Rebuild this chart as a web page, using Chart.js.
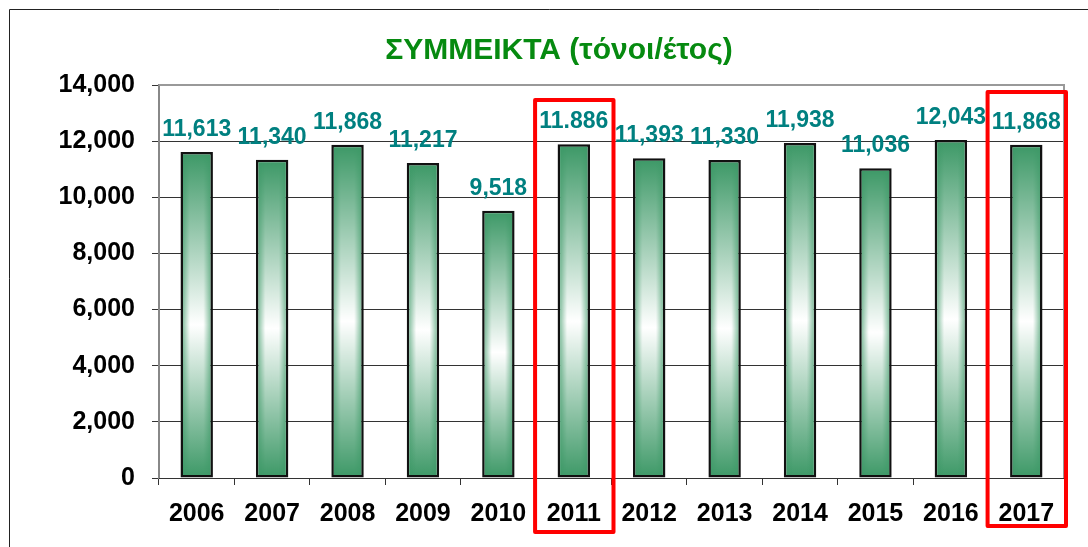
<!DOCTYPE html>
<html>
<head>
<meta charset="utf-8">
<script src="https://cdn.jsdelivr.net/npm/chart.js@4/dist/chart.umd.min.js"></script>
<style>
  html, body { margin: 0; padding: 0; background: #fff; }
  #wrap { width: 1088px; height: 547px; position: relative; }
</style>
</head>
<body>
<div id="wrap"><canvas id="chart" width="1088" height="547"></canvas></div>
<script>
// data
const years = ['2006', '2007', '2008', '2009', '2010', '2011', '2012', '2013', '2014', '2015', '2016', '2017'];
const tonnes = [11613, 11340, 11868, 11217, 9518, 11886, 11393, 11330, 11938, 11036, 12043, 11868];
const valueLabels = ['11,613', '11,340', '11,868', '11,217', '9,518', '11.886', '11,393', '11,330', '11,938', '11,036', '12,043', '11,868'];
const highlighted = ['2011', '2017'];
const yTicks = [0, 2000, 4000, 6000, 8000, 10000, 12000, 14000];

const GREEN = '#3c9866';
const FONT = 'Liberation Sans, Arial, sans-serif';

// bar fill: green at the ends and edges, white glow in the middle
const barFill = (ctx) => {
  const chart = ctx.chart;
  const xs = chart.scales.x, ys = chart.scales.y;
  if (!xs || !ys || ctx.type !== 'data') return GREEN;
  const i = ctx.dataIndex;
  const top = ys.getPixelForValue(tonnes[i]);
  const bot = ys.getPixelForValue(0);
  const cx = xs.getPixelForValue(i);
  if (![top, bot, cx].every(Number.isFinite) || bot - top < 2) return GREEN;
  const w = 34, h = Math.round(bot - top);
  const off = document.createElement('canvas');
  off.width = w; off.height = h;
  const o = off.getContext('2d');
  const v = o.createLinearGradient(0, 0, 0, h);
  v.addColorStop(0, GREEN);
  v.addColorStop(0.53, '#ffffff');
  v.addColorStop(1, GREEN);
  o.fillStyle = v;
  o.fillRect(0, 0, w, h);
  const hz = o.createLinearGradient(0, 0, w, 0);
  hz.addColorStop(0, 'rgba(60,152,102,0.85)');
  hz.addColorStop(0.3, 'rgba(60,152,102,0)');
  hz.addColorStop(0.7, 'rgba(60,152,102,0)');
  hz.addColorStop(1, 'rgba(60,152,102,0.85)');
  o.fillStyle = hz;
  o.fillRect(0, 0, w, h);
  const pat = chart.ctx.createPattern(off, 'no-repeat');
  pat.setTransform(new DOMMatrix().translate(cx - w / 2, top));
  return pat;
};

// frame, plot border, value labels and the red boxes
const extras = {
  id: 'extras',
  beforeDraw(chart) {
    const c = chart.ctx;
    c.save();
    c.strokeStyle = '#222';
    c.lineWidth = 1;
    c.beginPath();
    c.moveTo(9.5, 560);
    c.lineTo(9.5, 9.5);
    c.lineTo(1100, 9.5);
    c.stroke();
    c.restore();
  },
  afterDatasetsDraw(chart) {
    const c = chart.ctx;
    const a = chart.chartArea;
    const xs = chart.scales.x;
    c.save();
    // plot area border, top and right
    c.strokeStyle = '#999';
    c.lineWidth = 2;
    c.beginPath();
    c.moveTo(a.left, a.top);
    c.lineTo(a.right, a.top);
    c.lineTo(a.right, a.bottom);
    c.stroke();

    const meta = chart.getDatasetMeta(0);
    c.fillStyle = '#008080';
    c.font = 'bold 23px ' + FONT;
    c.textAlign = 'center';
    c.textBaseline = 'alphabetic';
    meta.data.forEach((bar, i) => {
      c.fillText(valueLabels[i], bar.x, bar.y - 16);
    });

    // red highlight boxes: [top offset, bottom offset] from the plot area
    const boxPad = { '2011': [15, 54], '2017': [7, 48] };
    c.strokeStyle = '#ff0000';
    c.lineWidth = 4;
    c.lineJoin = 'round';
    highlighted.forEach((yr) => {
      const i = years.indexOf(yr);
      const step = xs.getPixelForValue(1) - xs.getPixelForValue(0);
      const cx = xs.getPixelForValue(i);
      const top = a.top + boxPad[yr][0];
      const bottom = a.bottom + boxPad[yr][1];
      c.strokeRect(cx - step / 2 - 1, top, step + 3, bottom - top);
    });
    c.restore();
  }
};

new Chart(document.getElementById('chart'), {
  type: 'bar',
  data: {
    labels: years,
    datasets: [{
      data: tonnes,
      backgroundColor: barFill,
      borderColor: '#111',
      borderWidth: 2.5,
      borderSkipped: false,
      barPercentage: 0.43,
      categoryPercentage: 1
    }]
  },
  plugins: [extras],
  options: {
    responsive: false,
    animation: false,
    layout: { padding: { top: 33, left: 54, right: 24, bottom: 0 } },
    plugins: {
      legend: { display: false },
      tooltip: { enabled: false },
      title: {
        display: true,
        text: 'ΣΥΜΜΕΙΚΤΑ (τόνοι/έτος)',
        color: '#068a10',
        font: { family: FONT, size: 30, weight: 'bold' },
        padding: { top: 0, bottom: 16 }
      }
    },
    scales: {
      y: {
        min: 0,
        max: 14000,
        afterBuildTicks: (scale) => { scale.ticks = yTicks.map((v) => ({ value: v })); },
        afterFit: (scale) => { scale.width = 105; },
        ticks: {
          color: '#000',
          padding: 17,
          font: { family: FONT, size: 25, weight: 'bold' },
          callback: (v) => v.toLocaleString('en-US')
        },
        grid: { color: '#333', lineWidth: 1, tickLength: 7 },
        border: { color: '#888', width: 2 }
      },
      x: {
        afterFit: (scale) => { scale.height = 69; },
        ticks: {
          color: '#000',
          padding: 14,
          font: { family: FONT, size: 25, weight: 'bold' }
        },
        grid: { offset: true, drawOnChartArea: false, color: '#333', tickLength: 7 },
        border: { color: '#333', width: 1 }
      }
    }
  }
});
</script>
</body>
</html>
